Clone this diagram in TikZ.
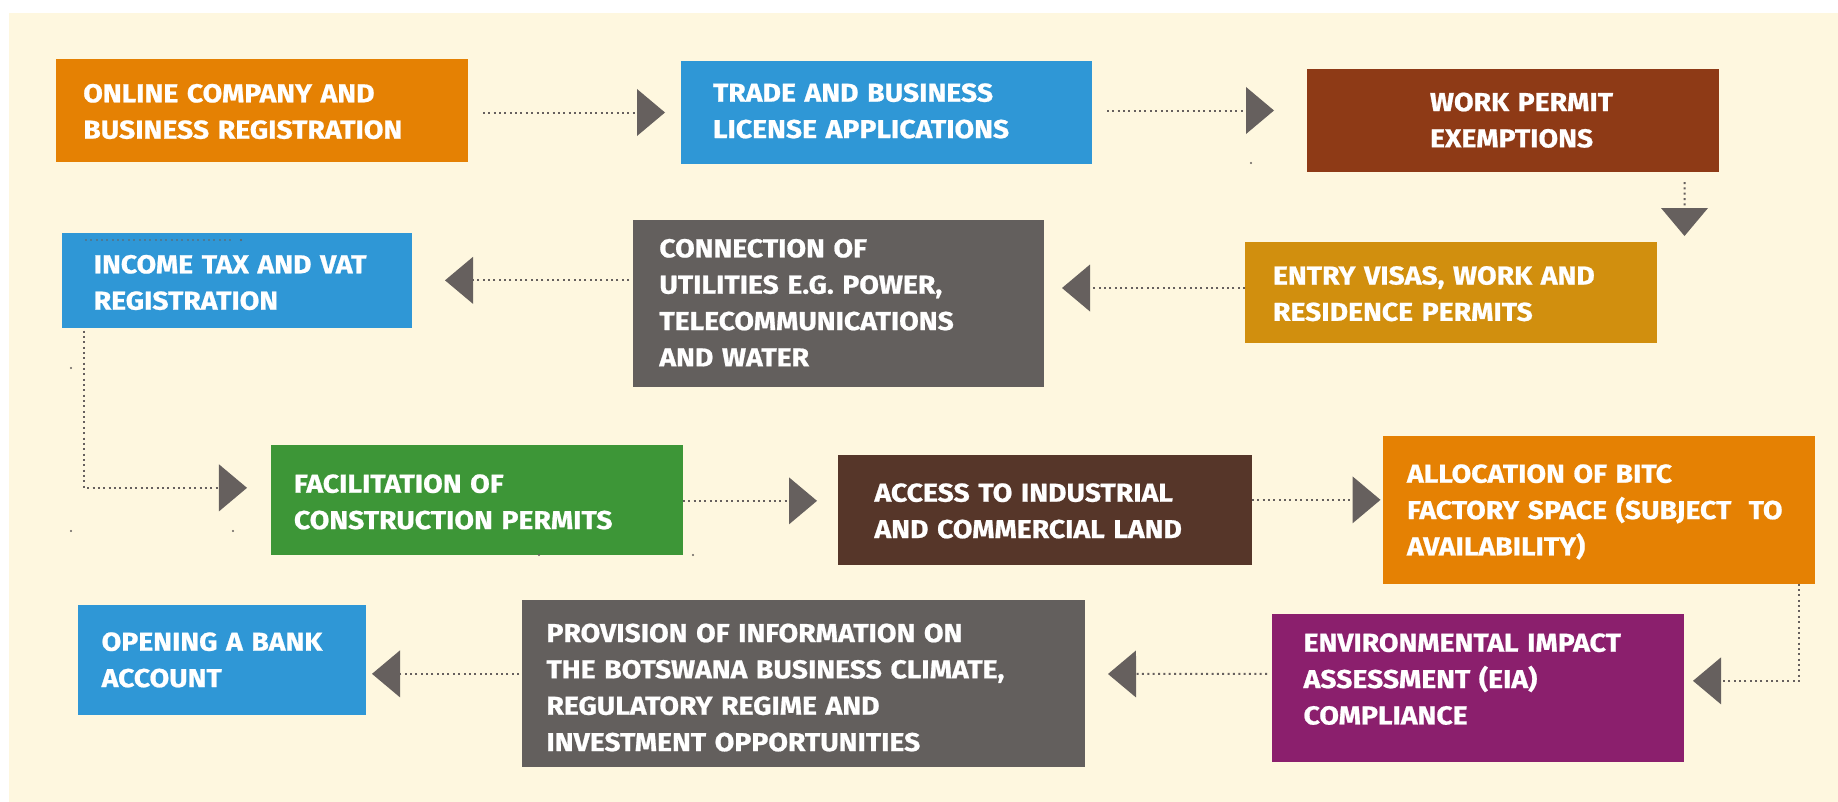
\documentclass[tikz,border=0pt]{standalone}
\usepackage{fontspec}
\newfontfamily\boxfont{Fira Sans}[FakeStretch=1.095,FakeBold=0.8]
\usetikzlibrary{arrows.meta,calc}
\definecolor{cream}{HTML}{FEF7DF}
\definecolor{corange}{HTML}{E58103}
\definecolor{cblue}{HTML}{2F97D6}
\definecolor{crust}{HTML}{8E3A16}
\definecolor{cgold}{HTML}{D18F0E}
\definecolor{cgrey}{HTML}{635F5D}
\definecolor{cgreen}{HTML}{3D9637}
\definecolor{cbrown}{HTML}{563629}
\definecolor{cpurple}{HTML}{8B1F6D}
\definecolor{carrow}{HTML}{66605E}
\begin{document}
\begin{tikzpicture}[x=1bp,y=-1bp,
  box/.style={draw=none, inner sep=0pt, outer sep=0pt, rectangle},
  lbl/.style={anchor=base west, inner sep=0pt, outer sep=0pt, text=white,
    text width=600bp, align=left,
    font=\boxfont\bfseries\fontsize{26}{36.5}\selectfont},
  conn/.style={draw=carrow, line width=2bp, dash pattern=on 2bp off 3.35bp,
    -{Triangle[length=28bp,width=47bp,line width=0pt]}},
  dotted line/.style={draw=carrow, line width=2bp, dash pattern=on 2bp off 3.35bp}]
\useasboundingbox (0,0) rectangle (1838,802);
\fill[white] (0,0) rectangle (1838,802);
\fill[cream] (9,13) rectangle (1838,802);

% boxes
\node[box, fill=corange, minimum width=412bp, minimum height=103bp] (b1) at (262,110.5) {};
\node[box, fill=cblue,   minimum width=411bp, minimum height=103bp] (b2) at (886.5,112.5) {};
\node[box, fill=crust,   minimum width=412bp, minimum height=103bp] (b3) at (1513,120.5) {};
\node[box, fill=cblue,   minimum width=349.6bp, minimum height=94.5bp] (b4) at (236.8,280.25) {};
\node[box, fill=cgrey,   minimum width=411bp, minimum height=166.7bp] (b5) at (838.5,303.35) {};
\node[box, fill=cgold,   minimum width=412bp, minimum height=101bp] (b6) at (1451,292.5) {};
\node[box, fill=cgreen,  minimum width=412bp, minimum height=109.7bp] (b7) at (477,499.85) {};
\node[box, fill=cbrown,  minimum width=414bp, minimum height=109.7bp] (b8) at (1045,509.85) {};
\node[box, fill=corange, minimum width=432bp, minimum height=147.7bp] (b9) at (1599,509.85) {};
\node[box, fill=cblue,   minimum width=288bp, minimum height=109.7bp] (b10) at (222,659.85) {};
\node[box, fill=cgrey,   minimum width=563bp, minimum height=166.7bp] (b11) at (803.5,683.35) {};
\node[box, fill=cpurple, minimum width=412bp, minimum height=147.7bp] (b12) at (1478,687.85) {};

% labels
\node[lbl] (t1) at (83.3,102.3) {ONLINE COMPANY AND\\BUSINESS REGISTRATION};
\node[lbl] (t2) at (713,101.7) {TRADE AND BUSINESS\\LICENSE APPLICATIONS};
\node[lbl] (t3) at (1430,111) {WORK PERMIT\\EXEMPTIONS};
\node[lbl] (t4) at (93.75,273.3) {INCOME TAX AND VAT\\REGISTRATION};
\node[lbl] (t5) at (659.4,257.3) {CONNECTION OF\\UTILITIES E.G. POWER,\\TELECOMMUNICATIONS\\AND WATER};
\node[lbl] (t6) at (1273,284.5) {ENTRY VISAS, WORK AND\\RESIDENCE PERMITS};
\node[lbl] (t7) at (294,492.7) {FACILITATION OF\\CONSTRUCTION PERMITS};
\node[lbl] (t8) at (874.5,501.7) {ACCESS TO INDUSTRIAL\\AND COMMERCIAL LAND};
\node[lbl] (t9) at (1407,482.7) {ALLOCATION OF BITC\\FACTORY SPACE (SUBJECT\ \ TO\\AVAILABILITY)};
\node[lbl] (t10) at (101.7,650.7) {OPENING A BANK\\ACCOUNT};
\node[lbl] (t11) at (546.5,642) {PROVISION OF INFORMATION ON\\THE BOTSWANA BUSINESS CLIMATE,\\REGULATORY REGIME AND\\INVESTMENT OPPORTUNITIES};
\node[lbl] (t12) at (1303.6,651.7) {ENVIRONMENTAL IMPACT\\ASSESSMENT (EIA)\\COMPLIANCE};

% connectors
\draw[conn] ([shift={(15,2)}]b1.east) -- ([shift={(-16,0)}]b2.west);
\draw[conn] ([shift={(15,-2)}]b2.east) -- ([shift={(-33,-10)}]b3.west);
\draw[conn] ([shift={(-34.5,10)}]b3.south east) -- ([shift={(27.5,-6)}]b6.north east);
\draw[conn] ([shift={(0,-4.5)}]b6.west) -- ([shift={(18,-15.35)}]b5.east);
\draw[conn] ([shift={(-4,-23)}]b5.west) -- ([shift={(33.4,0.1)}]b4.east);
\draw[conn] ([shift={(22,3)}]b4.south west) |- ([shift={(-24,-12)}]b7.west);
\draw[conn] ([shift={(0,1)}]b7.east) -- ([shift={(-21,-9)}]b8.west);
\draw[conn] ([shift={(0,-10)}]b8.east) -- ([shift={(-2.5,-10)}]b9.west);
\draw[conn] ([shift={(-16,0)}]b9.south east) |- ([shift={(9,-7)}]b12.east);
\draw[conn] ([shift={(-5,-14)}]b12.west) -- ([shift={(23,-9.35)}]b11.east);
\draw[conn] ([shift={(-3,-9.5)}]b11.west) -- ([shift={(6,14)}]b10.east);

% stray dots
\draw[dotted line, opacity=0.5] (85,240) -- (233,240);
\foreach \p in {(241,240),(1251,163),(71,368),(71,531),(233,531),(539,555),(693,555)}
  \fill[carrow] \p circle (1.1);
\end{tikzpicture}
\end{document}
